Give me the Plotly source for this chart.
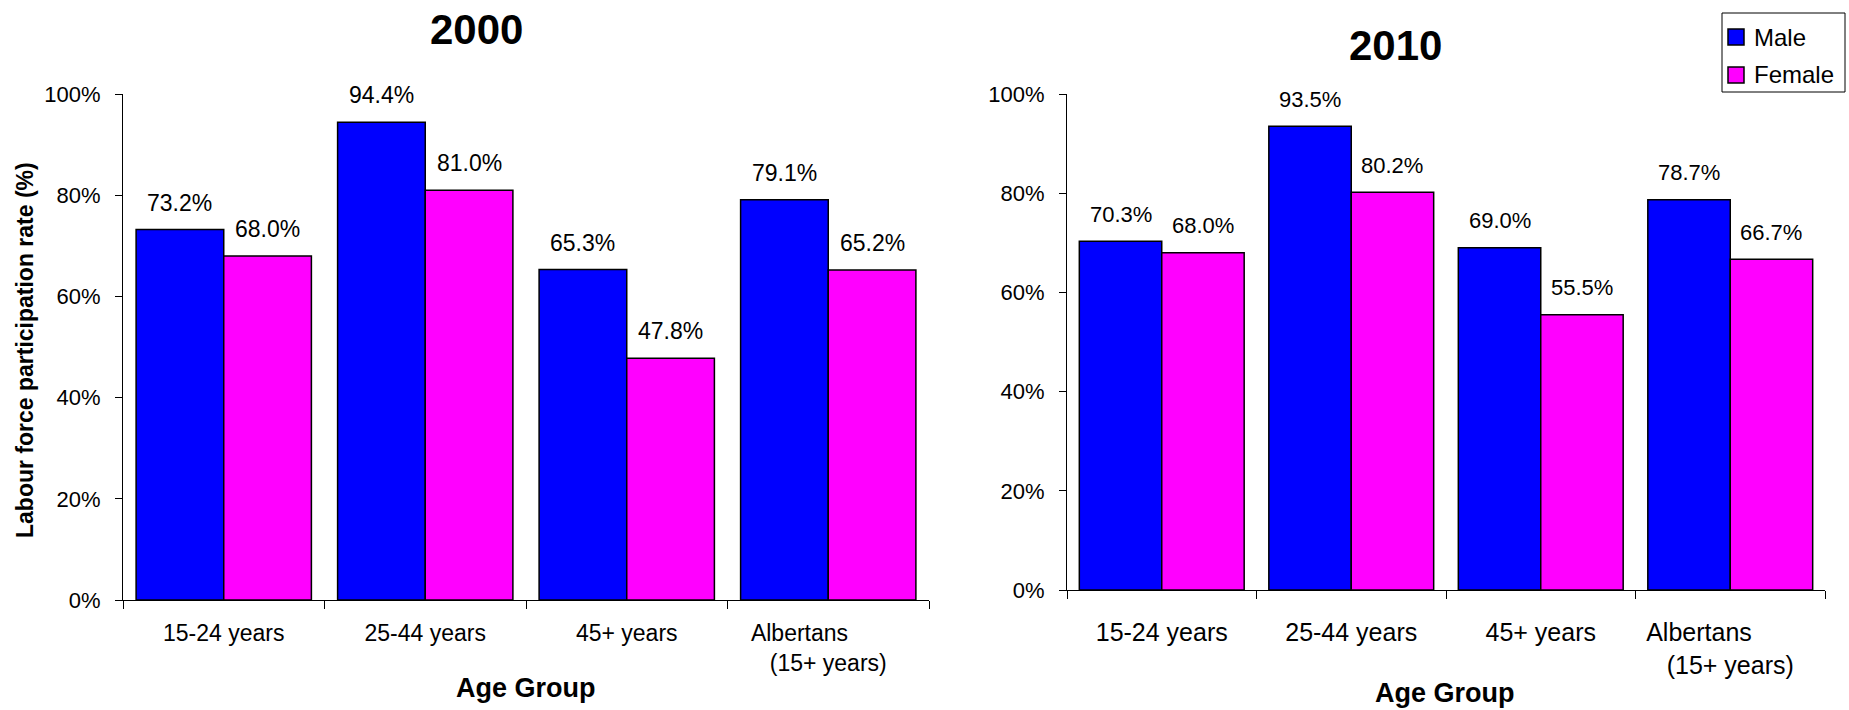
import plotly.graph_objects as go

W, H = 1849, 710

categories = ["15-24 years", "25-44 years", "45+ years", "Albertans (15+ years)"]
tick_labels = ["15-24 years", "25-44 years", "45+ years",
               "Albertans" + "\u00a0" * 9 + "<br>(15+ years)"]
male_2000 = [73.2, 94.4, 65.3, 79.1]
female_2000 = [68.0, 81.0, 47.8, 65.2]
male_2010 = [70.3, 93.5, 69.0, 78.7]
female_2010 = [68.0, 80.2, 55.5, 66.7]
y_ticks = [0, 20, 40, 60, 80, 100]
series_names = ["Male", "Female"]

BLUE = "#0000FF"
MAGENTA = "#FF00FF"
FONT = "Arial, Liberation Sans, sans-serif"
BARGAP = 0.13

def px_x(p):
    return p / W

def px_y(p):
    return 1 - p / H

fig = go.Figure()

panels = [
    dict(year="2000", male=male_2000, female=female_2000, xa="x", ya="y",
         dom_x=[px_x(123), px_x(929)], dom_y=[px_y(600), px_y(94)],
         tick_size=23, label_size=23, standoff=12),
    dict(year="2010", male=male_2010, female=female_2010, xa="x2", ya="y2",
         dom_x=[px_x(1067), px_x(1825)], dom_y=[px_y(590), px_y(94)],
         tick_size=25, label_size=22, standoff=20),
]

annotations = []
shapes = []
for i, p in enumerate(panels):
    fig.add_trace(go.Bar(x=categories, y=p["male"], name=series_names[0], xaxis=p["xa"], yaxis=p["ya"],
                         marker=dict(color=BLUE, line=dict(color="black", width=1.5)),
                         showlegend=False))
    fig.add_trace(go.Bar(x=categories, y=p["female"], name=series_names[1], xaxis=p["xa"], yaxis=p["ya"],
                         marker=dict(color=MAGENTA, line=dict(color="black", width=1.5)),
                         showlegend=False))
    off = (1 - BARGAP) / 4
    for j in range(len(categories)):
        for val, sgn in ((p["male"][j], -1), (p["female"][j], 1)):
            annotations.append(dict(
                x=j + sgn * off, y=val, xref=p["xa"], yref=p["ya"],
                text=f"{val:.1f}%", showarrow=False, yanchor="middle", xanchor="center",
                yshift=27, font=dict(family=FONT, size=p["label_size"], color="black")))
    sfx = "" if i == 0 else "2"
    fig.layout["xaxis" + sfx] = dict(
        domain=p["dom_x"], type="category", tickmode="array", tickvals=categories,
        ticktext=tick_labels, tickson="boundaries", ticks="outside", ticklen=8,
        tickcolor="black", showline=True, linecolor="black", linewidth=1,
        showgrid=False, zeroline=False, anchor=p["ya"], ticklabelstandoff=p["standoff"],
        automargin=False,
        tickfont=dict(family=FONT, size=p["tick_size"], color="black"), fixedrange=True)
    fig.layout["yaxis" + sfx] = dict(
        domain=p["dom_y"], range=[0, 100], tickmode="array", tickvals=y_ticks,
        ticktext=[f"{v}%" for v in y_ticks],
        ticks="outside", ticklen=7, tickcolor="black", showline=True, linecolor="black",
        linewidth=1, showgrid=False, zeroline=False, anchor=p["xa"], ticklabelstandoff=10,
        automargin=False,
        tickfont=dict(family=FONT, size=22, color="black"), fixedrange=True)

annotations += [
    dict(text="<b>2000</b>", x=px_x(476), y=px_y(30), xref="paper", yref="paper",
         showarrow=False, xanchor="center", yanchor="middle",
         font=dict(family=FONT, size=42, color="black")),
    dict(text="<b>2010</b>", x=px_x(1395), y=px_y(45), xref="paper", yref="paper",
         showarrow=False, xanchor="center", yanchor="middle",
         font=dict(family=FONT, size=42, color="black")),
    dict(text="<b>Age Group</b>", x=px_x(526), y=px_y(688), xref="paper", yref="paper",
         showarrow=False, xanchor="center", yanchor="middle",
         font=dict(family=FONT, size=27, color="black")),
    dict(text="<b>Age Group</b>", x=px_x(1445), y=px_y(693), xref="paper", yref="paper",
         showarrow=False, xanchor="center", yanchor="middle",
         font=dict(family=FONT, size=27, color="black")),
    dict(text="<b>Labour force participation rate (%)</b>", x=px_x(25), y=px_y(350),
         xref="paper", yref="paper", showarrow=False, textangle=-90,
         xanchor="center", yanchor="middle",
         font=dict(family=FONT, size=23, color="black")),
]

# manual legend
shapes.append(dict(type="rect", xref="paper", yref="paper",
                   x0=px_x(1722), x1=px_x(1845), y0=px_y(92), y1=px_y(13),
                   line=dict(color="black", width=1), fillcolor="white", layer="above"))
for k, (nm, col, cy) in enumerate(zip(series_names, [BLUE, MAGENTA], [37, 75])):
    shapes.append(dict(type="rect", xref="paper", yref="paper",
                       x0=px_x(1728), x1=px_x(1744), y0=px_y(cy + 8), y1=px_y(cy - 8),
                       line=dict(color="black", width=1.5), fillcolor=col, layer="above"))
    annotations.append(dict(text=nm, x=px_x(1752), y=px_y(cy), xref="paper", yref="paper",
                            showarrow=False, xanchor="left", yanchor="middle",
                            font=dict(family=FONT, size=24, color="black")))

fig.update_layout(
    width=W, height=H, margin=dict(l=0, r=0, t=0, b=0, autoexpand=False),
    paper_bgcolor="white", plot_bgcolor="white",
    barmode="group", bargap=BARGAP, bargroupgap=0,
    annotations=annotations, shapes=shapes, showlegend=False,
    font=dict(family=FONT, color="black"),
)

fig.write_html("out.html", config={"displayModeBar": False},
               post_script="document.body.style.margin='0';document.body.style.overflow='hidden';")
